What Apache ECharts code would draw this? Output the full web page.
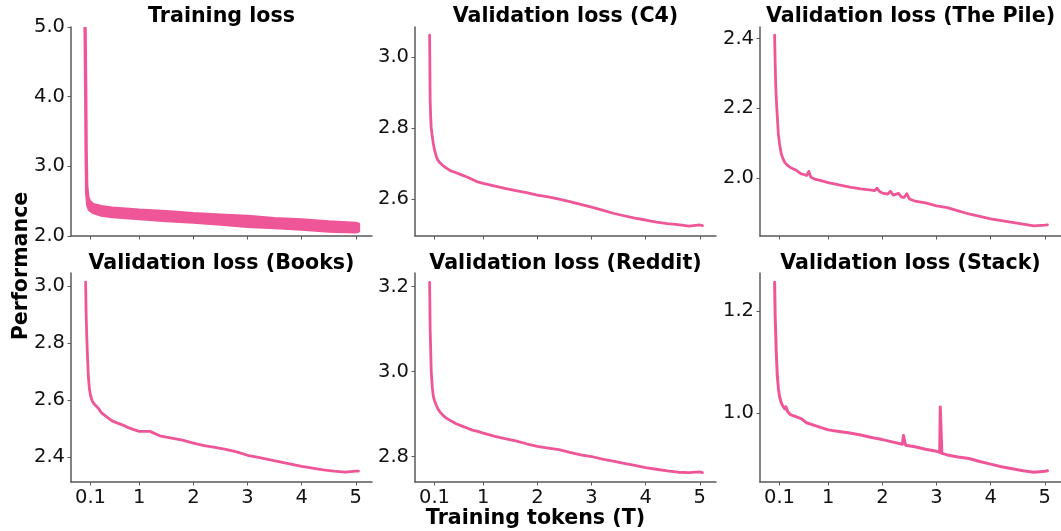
<!DOCTYPE html>
<html>
<head>
<meta charset="utf-8">
<title>Training and validation loss</title>
<script src="https://cdn.jsdelivr.net/npm/echarts@6/dist/echarts.min.js"></script>
<style>
  html, body { margin: 0; padding: 0; background: #fff; }
  #chart { width: 1061px; height: 531px; }
</style>
</head>
<body>
<div id="chart"></div>
<script>
// ---- data ----
const panelTitles = [
  'Training loss', 'Validation loss (C4)', 'Validation loss (The Pile)',
  'Validation loss (Books)', 'Validation loss (Reddit)', 'Validation loss (Stack)'
];
const xTickValues = [0.1, 1, 2, 3, 4, 5];
const xTickLabels = ['0.1', '1', '2', '3', '4', '5'];

// training loss is a noisy band: lower and upper envelope
const trainX    = [0.0, 0.01, 0.02, 0.03, 0.05, 0.08, 0.15, 0.3, 0.5, 1.0, 1.5, 2.0, 2.5, 3.0, 3.5, 4.0, 4.5, 5.0, 5.05];
const trainHigh = [5.0, 4.2, 3.2, 2.72, 2.56, 2.50, 2.45, 2.42, 2.40, 2.37, 2.35, 2.32, 2.30, 2.28, 2.25, 2.23, 2.20, 2.18, 2.17];
const trainLow  = [5.0, 4.2, 3.2, 2.62, 2.44, 2.38, 2.34, 2.30, 2.28, 2.25, 2.22, 2.20, 2.17, 2.14, 2.12, 2.10, 2.07, 2.06, 2.07];
const trainTicks = [2.0, 3.0, 4.0, 5.0];

// shared token grid for C4, Books and Reddit (trillions of tokens)
const valX = [0.01, 0.02, 0.03, 0.04, 0.06, 0.08, 0.1, 0.13, 0.16, 0.2, 0.25, 0.3, 0.4, 0.5, 0.6, 0.7, 0.8, 0.9,
  1.0, 1.2, 1.4, 1.6, 1.8, 2.0, 2.2, 2.4, 2.6, 2.8, 3.0, 3.2, 3.4, 3.6, 3.8, 4.0, 4.2, 4.4, 4.6, 4.8, 5.0, 5.05];

const c4Loss = [3.061, 2.88, 2.83, 2.80, 2.775, 2.755, 2.738, 2.722, 2.71, 2.702, 2.695, 2.689, 2.679, 2.674, 2.668, 2.662, 2.655, 2.648,
  2.644, 2.637, 2.630, 2.624, 2.618, 2.611, 2.606, 2.600, 2.593, 2.585, 2.577, 2.569, 2.560, 2.553, 2.546, 2.541, 2.535, 2.531, 2.528, 2.524, 2.527, 2.525];
const c4Ticks = [2.6, 2.8, 3.0];

const booksLoss = [3.015, 2.90, 2.83, 2.777, 2.684, 2.64, 2.617, 2.598, 2.588, 2.58, 2.57, 2.556, 2.541, 2.527, 2.519, 2.512, 2.503, 2.496,
  2.490, 2.490, 2.473, 2.466, 2.459, 2.449, 2.440, 2.434, 2.427, 2.418, 2.406, 2.399, 2.391, 2.383, 2.375, 2.367, 2.361, 2.355, 2.350, 2.347, 2.350, 2.350];
const booksTicks = [2.4, 2.6, 2.8, 3.0];

const redditLoss = [3.21, 3.10, 3.051, 3.0, 2.962, 2.941, 2.932, 2.922, 2.913, 2.905, 2.898, 2.892, 2.884, 2.877, 2.872, 2.867, 2.862, 2.859,
  2.855, 2.848, 2.842, 2.837, 2.830, 2.824, 2.820, 2.816, 2.810, 2.804, 2.800, 2.794, 2.789, 2.784, 2.779, 2.774, 2.770, 2.766, 2.763, 2.762, 2.764, 2.762];
const redditTicks = [2.8, 3.0, 3.2];

const pileX = [0.01, 0.02, 0.03, 0.04, 0.06, 0.08, 0.1, 0.13, 0.16, 0.2, 0.25, 0.3, 0.4, 0.5, 0.55, 0.6, 0.64, 0.68, 0.75, 0.85,
  1.0, 1.2, 1.4, 1.6, 1.8, 1.86, 1.9, 1.95, 2.0, 2.1, 2.15, 2.2, 2.3, 2.35, 2.4, 2.45, 2.5, 2.6, 2.8,
  3.0, 3.2, 3.4, 3.6, 3.8, 4.0, 4.2, 4.4, 4.6, 4.8, 5.0, 5.05];
const pileLoss = [2.41, 2.33, 2.271, 2.23, 2.176, 2.125, 2.10, 2.072, 2.058, 2.045, 2.037, 2.031, 2.024, 2.013, 2.011, 2.008, 2.020, 2.003, 1.998, 1.994,
  1.988, 1.981, 1.975, 1.970, 1.966, 1.965, 1.972, 1.962, 1.958, 1.955, 1.963, 1.952, 1.957, 1.947, 1.945, 1.956, 1.941, 1.935, 1.930,
  1.921, 1.916, 1.907, 1.898, 1.891, 1.884, 1.879, 1.874, 1.869, 1.864, 1.866, 1.867];
const pileTicks = [2.0, 2.2, 2.4];

const stackX = [0.01, 0.02, 0.03, 0.04, 0.06, 0.08, 0.1, 0.13, 0.16, 0.2, 0.22, 0.25, 0.3, 0.4, 0.5, 0.6, 0.8,
  1.0, 1.2, 1.4, 1.6, 1.8, 2.0, 2.2, 2.37, 2.39, 2.41, 2.43, 2.6, 2.8, 3.0, 3.06, 3.07, 3.09, 3.10, 3.2, 3.4, 3.6, 3.8,
  4.0, 4.2, 4.4, 4.6, 4.8, 5.0, 5.05];
const stackLoss = [1.256, 1.19, 1.156, 1.12, 1.072, 1.048, 1.033, 1.021, 1.014, 1.008, 1.012, 1.003, 0.997, 0.993, 0.989, 0.981, 0.974,
  0.967, 0.964, 0.961, 0.957, 0.952, 0.948, 0.943, 0.939, 0.956, 0.956, 0.937, 0.934, 0.929, 0.925, 0.923, 1.012, 1.012, 0.921, 0.918, 0.914, 0.911, 0.905,
  0.900, 0.895, 0.891, 0.887, 0.884, 0.886, 0.887];
const stackTicks = [1.0, 1.2];

// ---- layout & style ----
const PINK = '#ef5698';
const AXIS = '#5a5a5a';
const FONT = 'DejaVu Sans';
const W = 301, H = 209;
const cols = [71, 415, 760];
const rows = [27, 273];
const yRanges = [
  [2.0, 5.0], [2.496, 3.084], [1.835, 2.433],
  [2.312, 3.047], [2.740, 3.232], [0.865, 1.274]
];
const yTicks = [trainTicks, c4Ticks, pileTicks, booksTicks, redditTicks, stackTicks];

const pairs = (xs, ys) => xs.map((x, i) => [x, ys[i]]);

const grids = [], xAxes = [], yAxes = [], graphics = [];
for (let i = 0; i < 6; i++) {
  const r = Math.floor(i / 3), c = i % 3;
  grids.push({ left: cols[c], top: rows[r], width: W, height: H, containLabel: false });
  xAxes.push({
    type: 'value', gridIndex: i, min: -0.26, max: 5.3,
    splitLine: { show: false },
    axisLine: { show: true, onZero: false, lineStyle: { color: AXIS, width: 1.5 } },
    axisTick: { show: true, customValues: xTickValues, length: 3.5, lineStyle: { color: AXIS, width: 1 } },
    axisLabel: {
      show: r === 1, customValues: xTickValues, margin: 6,
      color: '#111', fontFamily: FONT, fontSize: 19.5,
      formatter: v => xTickLabels[xTickValues.findIndex(t => Math.abs(t - v) < 1e-9)]
    }
  });
  yAxes.push({
    type: 'value', gridIndex: i, min: yRanges[i][0], max: yRanges[i][1],
    splitLine: { show: false },
    axisLine: { show: true, onZero: false, lineStyle: { color: AXIS, width: 1.5 } },
    axisTick: { show: true, customValues: yTicks[i], length: 3.5, lineStyle: { color: AXIS, width: 1 } },
    axisLabel: {
      customValues: yTicks[i], margin: 6,
      color: '#111', fontFamily: FONT, fontSize: 19.5,
      formatter: v => v.toFixed(1)
    }
  });
  graphics.push({
    type: 'text', x: cols[c] + W / 2, y: r === 0 ? 17 : 264,
    style: {
      text: panelTitles[i], fill: '#000', font: 'bold 20.6px "' + FONT + '"',
      textAlign: 'center', textVerticalAlign: 'middle'
    }
  });
}
graphics.push({
  type: 'text', x: 22, y: 266, rotation: Math.PI / 2,
  style: { text: 'Performance', fill: '#000', font: 'bold 20.6px "' + FONT + '"', textAlign: 'center', textVerticalAlign: 'middle' }
});
graphics.push({
  type: 'text', x: 535.5, y: 519,
  style: { text: 'Training tokens (T)', fill: '#000', font: 'bold 20.6px "' + FONT + '"', textAlign: 'center', textVerticalAlign: 'middle' }
});

const lineSeries = (idx, xs, ys, width) => ({
  type: 'line', xAxisIndex: idx, yAxisIndex: idx, data: pairs(xs, ys),
  showSymbol: false, symbol: 'none', clip: true,
  lineStyle: { color: PINK, width: width || 2.8, join: 'round', cap: 'round' }
});

// training band: polygon along the upper envelope, back along the lower one
const trainBand = {
  type: 'custom', xAxisIndex: 0, yAxisIndex: 0, clip: true,
  data: [[trainX[0], trainLow[0]]],
  renderItem: (params, api) => {
    const pts = [];
    for (let i = 0; i < trainX.length; i++) pts.push(api.coord([trainX[i], trainHigh[i]]));
    for (let i = trainX.length - 1; i >= 0; i--) pts.push(api.coord([trainX[i], trainLow[i]]));
    return {
      type: 'polygon', shape: { points: pts },
      style: { fill: PINK, stroke: PINK, lineWidth: 3.4, lineJoin: 'round' }
    };
  }
};

const series = [
  trainBand,
  lineSeries(1, valX, c4Loss),
  lineSeries(2, pileX, pileLoss),
  lineSeries(3, valX, booksLoss),
  lineSeries(4, valX, redditLoss),
  lineSeries(5, stackX, stackLoss, 3)
];

const chart = echarts.init(document.getElementById('chart'), null, { renderer: 'canvas' });
chart.setOption({
  animation: false,
  backgroundColor: '#fff',
  grid: grids, xAxis: xAxes, yAxis: yAxes,
  series: series,
  graphic: graphics
});
</script>
</body>
</html>
